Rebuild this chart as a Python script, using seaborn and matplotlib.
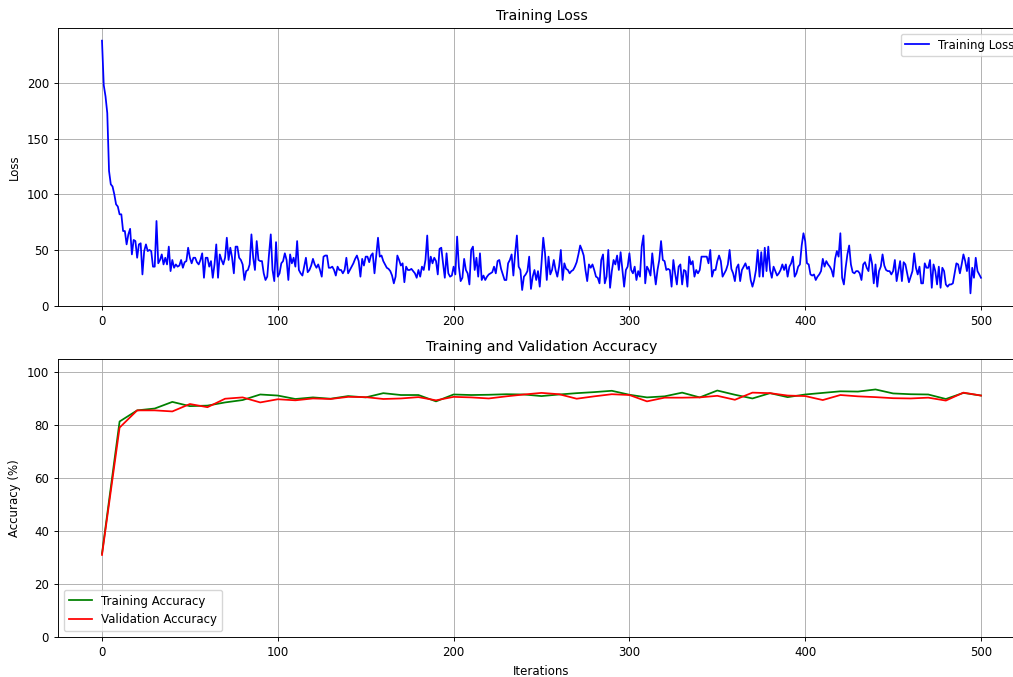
import numpy as np
import matplotlib
matplotlib.use("Agg")
import matplotlib.pyplot as plt
import seaborn as sns

# training loss per iteration
loss = [
    238, 198, 188, 173, 121, 109, 107, 100, 91, 89,
    82, 82, 67, 67, 55, 64, 69, 46, 59, 58,
    43, 55, 56, 28, 49, 55, 49, 50, 49, 35,
    35, 76, 38, 41, 46, 37, 43, 37, 53, 31,
    41, 34, 37, 35, 36, 41, 34, 39, 40, 52,
    43, 38, 43, 43, 39, 37, 41, 47, 25, 43,
    43, 35, 40, 25, 37, 55, 25, 46, 41, 37,
    43, 61, 41, 52, 43, 29, 53, 53, 43, 41,
    37, 23, 31, 32, 37, 64, 43, 32, 58, 41,
    40, 40, 29, 23, 26, 46, 64, 32, 22, 57,
    26, 29, 38, 40, 47, 41, 23, 46, 38, 43,
    35, 58, 32, 29, 27, 35, 43, 30, 32, 36,
    42, 37, 34, 37, 32, 26, 44, 45, 45, 34,
    34, 35, 32, 27, 35, 32, 32, 29, 32, 43,
    29, 32, 35, 38, 42, 45, 40, 26, 42, 36,
    44, 44, 39, 45, 47, 29, 45, 61, 44, 45,
    40, 37, 34, 33, 31, 27, 20, 26, 45, 41,
    36, 38, 21, 35, 32, 32, 33, 31, 29, 25,
    32, 26, 35, 32, 41, 63, 32, 44, 38, 43,
    40, 28, 51, 52, 38, 25, 47, 29, 26, 27,
    35, 28, 62, 35, 22, 25, 42, 32, 29, 19,
    50, 53, 32, 43, 26, 47, 23, 27, 23, 26,
    28, 29, 30, 35, 29, 40, 41, 33, 28, 23,
    23, 38, 41, 46, 27, 47, 63, 35, 32, 14,
    26, 28, 31, 44, 15, 26, 32, 23, 31, 17,
    38, 61, 47, 23, 44, 28, 32, 41, 32, 26,
    35, 50, 23, 38, 33, 32, 29, 31, 32, 35,
    39, 46, 54, 50, 45, 32, 22, 37, 34, 37,
    32, 26, 25, 20, 41, 46, 20, 26, 50, 16,
    31, 41, 37, 45, 32, 48, 32, 17, 32, 35,
    47, 32, 29, 35, 23, 31, 26, 53, 63, 20,
    35, 32, 27, 47, 32, 19, 32, 41, 58, 41,
    40, 32, 33, 32, 17, 41, 29, 19, 35, 37,
    19, 32, 31, 17, 44, 37, 40, 26, 32, 29,
    32, 44, 44, 44, 44, 38, 50, 26, 32, 32,
    40, 45, 40, 26, 29, 32, 37, 50, 33, 29,
    22, 34, 37, 22, 32, 35, 38, 33, 35, 23,
    17, 23, 32, 50, 26, 48, 26, 52, 31, 53,
    32, 25, 35, 31, 27, 29, 32, 37, 32, 37,
    26, 35, 38, 44, 26, 29, 35, 37, 54, 65,
    58, 38, 37, 28, 27, 28, 23, 26, 28, 31,
    42, 35, 40, 37, 35, 32, 26, 42, 49, 44,
    65, 25, 19, 34, 46, 54, 37, 30, 29, 31,
    31, 29, 23, 37, 39, 34, 31, 46, 38, 20,
    37, 17, 31, 35, 46, 36, 32, 31, 31, 28,
    31, 41, 22, 31, 40, 22, 39, 37, 29, 21,
    26, 31, 47, 34, 28, 35, 20, 20, 38, 34,
    34, 41, 16, 37, 31, 19, 35, 16, 34, 31,
    19, 17, 19, 19, 20, 29, 38, 37, 29, 37,
    46, 40, 31, 43, 11, 34, 25, 43, 31, 28,
    25,
]

# accuracy evaluated every 10 iterations
acc_iters = list(range(0, 501, 10))
train_acc = [
    31.5, 81.4, 85.6, 86.3, 88.8, 87.2, 87.4, 88.6, 89.5, 91.6,
    91.2, 89.9, 90.5, 90.0, 91.0, 90.5, 92.1, 91.4, 91.4, 89.0,
    91.6, 91.4, 91.5, 91.7, 91.6, 91.0, 91.6, 92.1, 92.5, 93.0,
    91.5, 90.5, 90.9, 92.3, 90.5, 93.1, 91.5, 90.1, 92.1, 90.6,
    91.6, 92.2, 92.8, 92.7, 93.5, 92.0, 91.7, 91.6, 89.9, 92.2,
    91.2,
]
val_acc = [
    31.0, 79.1, 85.6, 85.6, 85.2, 88.0, 86.8, 90.0, 90.5, 88.6,
    89.8, 89.4, 90.1, 89.9, 90.7, 90.6, 89.9, 90.1, 90.6, 89.4,
    90.7, 90.5, 90.1, 90.9, 91.6, 92.2, 91.7, 90.0, 90.9, 91.7,
    91.4, 89.0, 90.4, 90.4, 90.5, 91.1, 89.6, 92.3, 92.1, 91.2,
    91.0, 89.5, 91.4, 90.9, 90.6, 90.2, 90.1, 90.4, 89.3, 92.3,
    91.2,
]

loss_iters = np.arange(len(loss))

# the reference looks like a 12x8 figure shrunk down, so scale text and lines
s = 0.844
plt.rcParams.update({
    "font.size": 10 * s,
    "axes.titlesize": 12 * s,
    "lines.linewidth": 1.5 * s,
    "axes.linewidth": 0.8 * s,
    "grid.linewidth": 0.8 * s,
    "xtick.major.size": 3.5 * s,
    "ytick.major.size": 3.5 * s,
    "xtick.major.width": 0.8 * s,
    "ytick.major.width": 0.8 * s,
    "legend.fontsize": 10 * s,
})

fig = plt.figure(figsize=(10.13, 6.77), dpi=100)
ax1 = fig.add_axes([0.0573, 0.548, 0.9545, 0.4106])
ax2 = fig.add_axes([0.0573, 0.0591, 0.9545, 0.4106])

sns.lineplot(x=loss_iters, y=loss, color="blue", label="Training Loss", ax=ax1)
ax1.set_title("Training Loss")
ax1.set_ylabel("Loss")
ax1.set_xlabel("")
ax1.legend(loc="upper right")
ax1.grid(True)

sns.lineplot(x=acc_iters, y=train_acc, color="green", label="Training Accuracy", ax=ax2)
sns.lineplot(x=acc_iters, y=val_acc, color="red", label="Validation Accuracy", ax=ax2)
ax2.set_title("Training and Validation Accuracy")
ax2.set_xlabel("Iterations")
ax2.set_ylabel("Accuracy (%)")
ax2.set_ylim(0, 105)
ax2.legend(loc="lower left")
ax2.grid(True)

for ax in (ax1, ax2):
    ax.set_xticks([0, 100, 200, 300, 400, 500])

fig.savefig("out.png", dpi=100)
